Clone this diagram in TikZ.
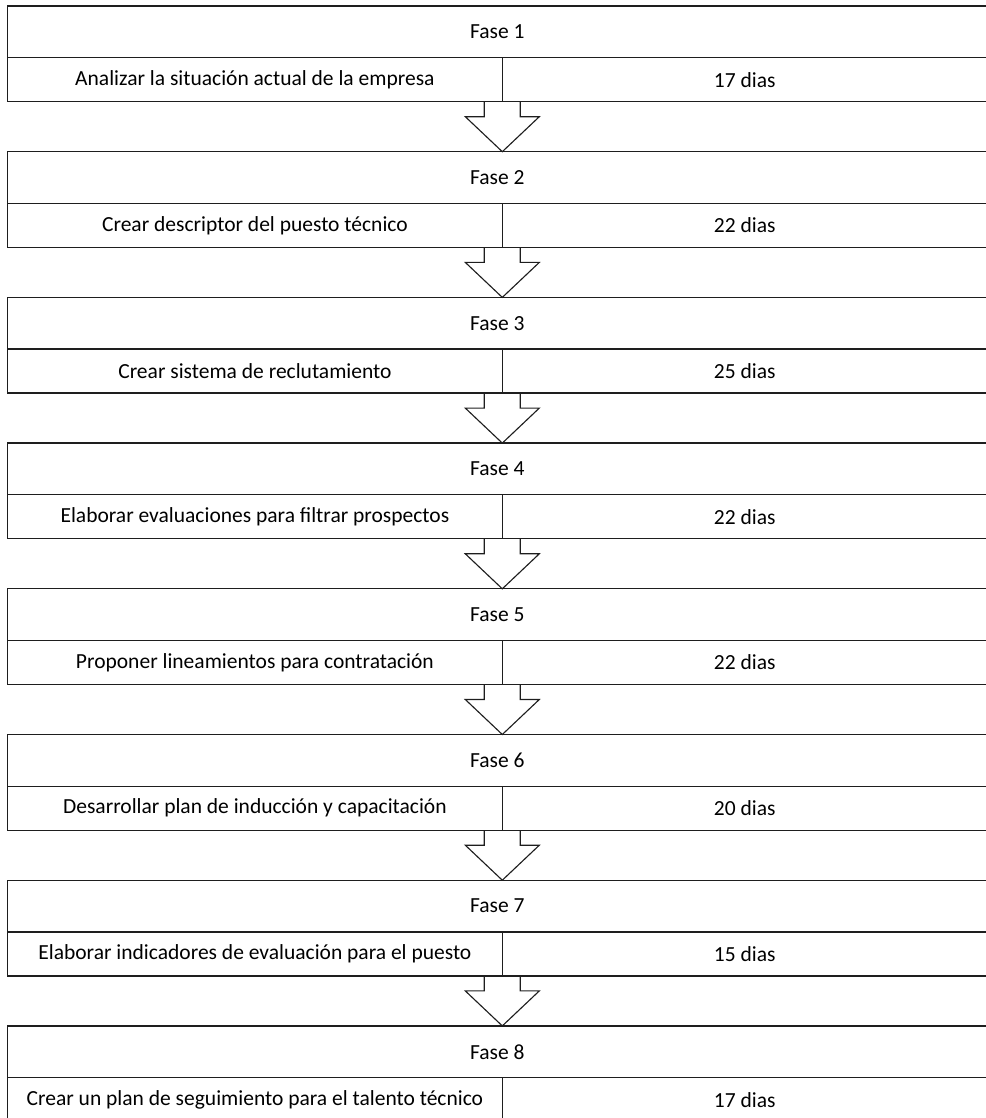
\documentclass[tikz,border=0pt]{standalone}
\usepackage{fontspec}
\setmainfont{Carlito}
\usepackage{tikz}
\usepackage{xcolor}
\usetikzlibrary{positioning}
\usetikzlibrary{calc}
\definecolor{bordecolor}{RGB}{30, 30, 30}
\tikzstyle{fase} = [draw=bordecolor, line width=0.9pt, rectangle, outer sep=0pt, inner sep=0pt, minimum width=24.49cm, minimum height=1.2925cm, font=\fontsize{15.3}{18}\selectfont]
\tikzstyle{actividad} = [draw=bordecolor, line width=0.9pt, rectangle, outer sep=0pt, inner sep=0pt, minimum width=12.37cm, minimum height=1.1cm, font=\fontsize{15.3}{18}\selectfont]
\tikzstyle{duracion} = [draw=bordecolor, line width=0.9pt, rectangle, outer sep=0pt, inner sep=0pt, minimum width=12.12cm, minimum height=1.1cm, font=\fontsize{15.3}{18}\selectfont]
\tikzstyle{flecha} = [draw=bordecolor, line width=0.8pt, line join=miter]

\begin{document}
\begin{tikzpicture}
		\useasboundingbox (0,0) rectangle (24.625,-27.95);
		
		%
		% Fase 1
		\node [fase, anchor=north west] at (0.1875,-0.15) (fase1) {Fase 1};
		\node [actividad, anchor=north west] at (fase1.south west) (act1) {Analizar la situación actual de la empresa};
		\node [right=0cm of act1, duracion] (dur1) {17 dias};
		
		%
		% Fase 2
		\node [below=1.25cm of act1.south west, anchor=north west, fase] (fase2) {Fase 2};
		\node [actividad, anchor=north west] at (fase2.south west) (act2) {Crear descriptor del puesto técnico};
		\node [right=0cm of act2, duracion] (dur2) {22 dias};
		
		\draw [flecha] ([xshift=-0.45cm]act1.south east) -- ([xshift=-0.45cm, yshift=-0.375cm]act1.south east) -- ([xshift=-0.925cm, yshift=-0.375cm]act1.south east) -- (act1.south east |- fase2.north) -- ([xshift=0.925cm, yshift=-0.375cm]act1.south east) -- ([xshift=0.45cm, yshift=-0.375cm]act1.south east) -- ([xshift=0.45cm]act1.south east);
		
		%
		% Fase 3
		\node [below=1.25cm of act2.south west, anchor=north west, fase] (fase3) {Fase 3};
		\node [actividad, anchor=north west] at (fase3.south west) (act3) {Crear sistema de reclutamiento};
		\node [right=0cm of act3, duracion] (dur3) {25 dias};
		
		\draw [flecha] ([xshift=-0.45cm]act2.south east) -- ([xshift=-0.45cm, yshift=-0.375cm]act2.south east) -- ([xshift=-0.925cm, yshift=-0.375cm]act2.south east) -- (act2.south east |- fase3.north) -- ([xshift=0.925cm, yshift=-0.375cm]act2.south east) -- ([xshift=0.45cm, yshift=-0.375cm]act2.south east) -- ([xshift=0.45cm]act2.south east);
		
		%
		% Fase 4
		\node [below=1.25cm of act3.south west, anchor=north west, fase] (fase4) {Fase 4};
		\node [actividad, anchor=north west] at (fase4.south west) (act4) {Elaborar evaluaciones para filtrar prospectos};
		\node [right=0cm of act4, duracion] (dur4) {22 dias};
		
		\draw [flecha] ([xshift=-0.45cm]act3.south east) -- ([xshift=-0.45cm, yshift=-0.375cm]act3.south east) -- ([xshift=-0.925cm, yshift=-0.375cm]act3.south east) -- (act3.south east |- fase4.north) -- ([xshift=0.925cm, yshift=-0.375cm]act3.south east) -- ([xshift=0.45cm, yshift=-0.375cm]act3.south east) -- ([xshift=0.45cm]act3.south east);
		
		%
		% Fase 5
		\node [below=1.25cm of act4.south west, anchor=north west, fase] (fase5) {Fase 5};
		\node [actividad, anchor=north west] at (fase5.south west) (act5) {Proponer lineamientos para contratación};
		\node [right=0cm of act5, duracion] (dur5) {22 dias};
		
		\draw [flecha] ([xshift=-0.45cm]act4.south east) -- ([xshift=-0.45cm, yshift=-0.375cm]act4.south east) -- ([xshift=-0.925cm, yshift=-0.375cm]act4.south east) -- (act4.south east |- fase5.north) -- ([xshift=0.925cm, yshift=-0.375cm]act4.south east) -- ([xshift=0.45cm, yshift=-0.375cm]act4.south east) -- ([xshift=0.45cm]act4.south east);
		
		%
		% Fase 6
		\node [below=1.25cm of act5.south west, anchor=north west, fase] (fase6) {Fase 6};
		\node [actividad, anchor=north west] at (fase6.south west) (act6) {Desarrollar plan de inducción y capacitación};
		\node [right=0cm of act6, duracion] (dur6) {20 dias};
		
		\draw [flecha] ([xshift=-0.45cm]act5.south east) -- ([xshift=-0.45cm, yshift=-0.375cm]act5.south east) -- ([xshift=-0.925cm, yshift=-0.375cm]act5.south east) -- (act5.south east |- fase6.north) -- ([xshift=0.925cm, yshift=-0.375cm]act5.south east) -- ([xshift=0.45cm, yshift=-0.375cm]act5.south east) -- ([xshift=0.45cm]act5.south east);
		
		%
		% Fase 7
		\node [below=1.25cm of act6.south west, anchor=north west, fase] (fase7) {Fase 7};
		\node [actividad, anchor=north west] at (fase7.south west) (act7) {Elaborar indicadores de evaluación para el puesto};
		\node [right=0cm of act7, duracion] (dur7) {15 dias};
		
		\draw [flecha] ([xshift=-0.45cm]act6.south east) -- ([xshift=-0.45cm, yshift=-0.375cm]act6.south east) -- ([xshift=-0.925cm, yshift=-0.375cm]act6.south east) -- (act6.south east |- fase7.north) -- ([xshift=0.925cm, yshift=-0.375cm]act6.south east) -- ([xshift=0.45cm, yshift=-0.375cm]act6.south east) -- ([xshift=0.45cm]act6.south east);
		
		%
		% Fase 8
		\node [below=1.25cm of act7.south west, anchor=north west, fase] (fase8) {Fase 8};
		\node [actividad, anchor=north west] at (fase8.south west) (act8) {Crear un plan de seguimiento para el talento técnico};
		\node [right=0cm of act8, duracion] (dur8) {17 dias};
		
		\draw [flecha] ([xshift=-0.45cm]act7.south east) -- ([xshift=-0.45cm, yshift=-0.375cm]act7.south east) -- ([xshift=-0.925cm, yshift=-0.375cm]act7.south east) -- (act7.south east |- fase8.north) -- ([xshift=0.925cm, yshift=-0.375cm]act7.south east) -- ([xshift=0.45cm, yshift=-0.375cm]act7.south east) -- ([xshift=0.45cm]act7.south east);
	
	\end{tikzpicture}
\end{document}
